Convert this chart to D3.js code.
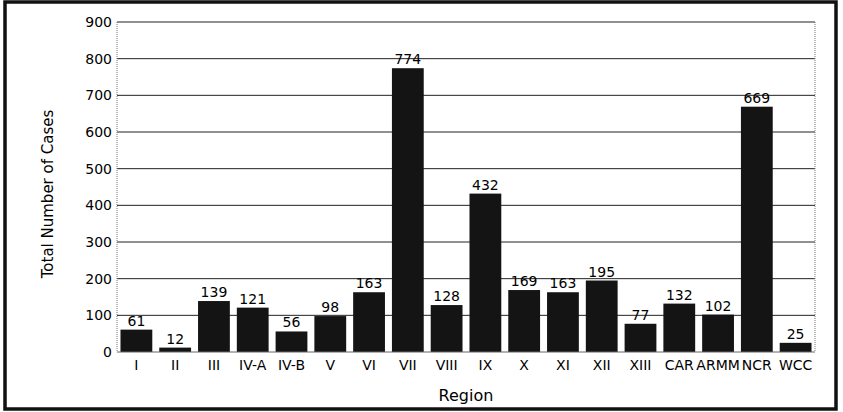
<!DOCTYPE html>
<html><head><meta charset="utf-8">
<script src="https://cdn.jsdelivr.net/npm/d3@7"></script>
<style>body{margin:0;background:#fff}svg{display:block}</style>
</head><body>
<script>
const regions = ["I","II","III","IV-A","IV-B","V","VI","VII","VIII","IX","X","XI","XII","XIII","CAR","ARMM","NCR","WCC"];
const cases = [61,12,139,121,56,98,163,774,128,432,169,163,195,77,132,102,669,25];
const yTicks = [0,100,200,300,400,500,600,700,800,900];

const W = 843, H = 412;
const m = {left:117, right:28, top:22, bottom:60};
const svg = d3.select("body").append("svg").attr("width",W).attr("height",H);
const font = "DejaVu Sans, sans-serif";

// outer frame
svg.append("rect").attr("x",5).attr("y",2).attr("width",831).attr("height",407)
  .attr("fill","none").attr("stroke","#111").attr("stroke-width",3.5);

const x = d3.scaleBand().domain(regions).range([m.left, W-m.right]).paddingInner(0.18).paddingOuter(0.09);
const y = d3.scaleLinear().domain([0,900]).range([H-m.bottom, m.top]);

// gridlines
svg.append("g").selectAll("line").data(yTicks.filter(d=>d>0)).join("line")
  .attr("x1",m.left).attr("x2",W-m.right)
  .attr("y1",d=>y(d)).attr("y2",d=>y(d))
  .attr("stroke","#222").attr("stroke-width",1);

// left and right plot edges (dotted)
svg.append("line").attr("x1",m.left).attr("x2",m.left).attr("y1",m.top).attr("y2",y(0))
  .attr("stroke","#777").attr("stroke-dasharray","1,1");
svg.append("line").attr("x1",W-m.right).attr("x2",W-m.right).attr("y1",m.top).attr("y2",y(0))
  .attr("stroke","#777").attr("stroke-dasharray","1,1");

// bars
svg.append("g").selectAll("rect").data(regions).join("rect")
  .attr("x",d=>x(d)).attr("width",x.bandwidth())
  .attr("y",(d,i)=>y(cases[i])).attr("height",(d,i)=>y(0)-y(cases[i]))
  .attr("fill","#141414");

// baseline
svg.append("line").attr("x1",m.left).attr("x2",W-m.right).attr("y1",y(0)).attr("y2",y(0))
  .attr("stroke","#666").attr("stroke-width",1);

// value labels
svg.append("g").selectAll("text").data(regions).join("text")
  .attr("x",d=>x(d)+x.bandwidth()/2).attr("y",(d,i)=>y(cases[i])-4)
  .attr("text-anchor","middle").attr("font-family",font).attr("font-size",14)
  .attr("fill","#000").text((d,i)=>cases[i]);

// y axis
const ya = svg.append("g").attr("transform",`translate(${m.left},0)`)
  .call(d3.axisLeft(y).tickValues(yTicks).tickSize(0).tickPadding(5));
ya.select(".domain").remove();
ya.selectAll("text").attr("font-family",font).attr("font-size",14).attr("fill","#000");

// x axis
const xa = svg.append("g").attr("transform",`translate(0,${y(0)})`)
  .call(d3.axisBottom(x).tickSize(0).tickPadding(8));
xa.select(".domain").remove();
xa.selectAll("text").attr("font-family",font).attr("font-size",14).attr("fill","#000");

// titles
svg.append("text").attr("x",(m.left+W-m.right)/2).attr("y",401)
  .attr("text-anchor","middle").attr("font-family",font).attr("font-size",16).text("Region");
svg.append("text").attr("transform","translate(53,194) rotate(-90)")
  .attr("text-anchor","middle").attr("font-family",font).attr("font-size",15).text("Total Number of Cases");
</script>
</body></html>
